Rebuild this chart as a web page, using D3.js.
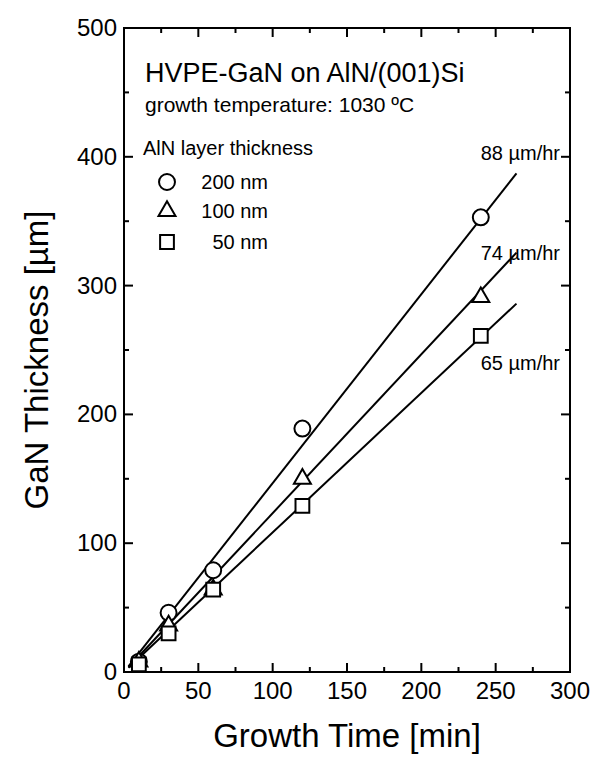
<!DOCTYPE html>
<html>
<head>
<meta charset="utf-8">
<script src="https://cdn.jsdelivr.net/npm/d3@7"></script>
<style>
  body { margin: 0; background: #fff; }
  svg { display: block; font-family: "Liberation Sans", Arial, sans-serif; }
</style>
</head>
<body>
<svg></svg>
<script>
// data
const times = [10, 30, 60, 120, 240];          // growth time [min]
const thick200 = [8, 46, 79, 189, 353];        // GaN thickness [um], 200 nm AlN
const thick100 = [8, 36, 64, 150, 291];        // 100 nm AlN
const thick50 = [6, 30, 64, 129, 261];         // 50 nm AlN
const rates = [88, 74, 65];                    // fitted growth rate [um/hr]
const legendNames = ["200 nm", "100 nm", "50 nm"];
const xTicks = [0, 50, 100, 150, 200, 250, 300];
const yTicks = [0, 100, 200, 300, 400, 500];

const width = 610, height = 763;
const plotL = 124, plotR = 570, plotT = 28, plotB = 672;

const svg = d3.select("svg").attr("width", width).attr("height", height);

const x = d3.scaleLinear().domain([0, 300]).range([plotL, plotR]);
const y = d3.scaleLinear().domain([0, 500]).range([plotB, plotT]);

// frame
svg.append("rect")
  .attr("x", plotL).attr("y", plotT)
  .attr("width", plotR - plotL).attr("height", plotB - plotT)
  .attr("fill", "none").attr("stroke", "#000").attr("stroke-width", 2);

// inward ticks on all four sides, majors + minors
const xMinor = d3.range(25, 300, 50);
const yMinor = d3.range(50, 500, 100);
const tickG = svg.append("g").attr("stroke", "#000").attr("stroke-width", 2);
const addTicks = (vals, len, axis) => {
  vals.forEach(v => {
    if (axis === "x") {
      tickG.append("line").attr("x1", x(v)).attr("x2", x(v)).attr("y1", plotB).attr("y2", plotB - len);
      tickG.append("line").attr("x1", x(v)).attr("x2", x(v)).attr("y1", plotT).attr("y2", plotT + len);
    } else {
      tickG.append("line").attr("y1", y(v)).attr("y2", y(v)).attr("x1", plotL).attr("x2", plotL + len);
      tickG.append("line").attr("y1", y(v)).attr("y2", y(v)).attr("x1", plotR).attr("x2", plotR - len);
    }
  });
};
addTicks(xTicks.slice(1, -1), 9, "x");
addTicks(xMinor, 5, "x");
addTicks(yTicks.slice(1, -1), 9, "y");
addTicks(yMinor, 5, "y");

// tick labels
svg.append("g").selectAll("text").data(xTicks).enter().append("text")
  .attr("x", d => x(d)).attr("y", plotB + 27)
  .attr("text-anchor", "middle").attr("font-size", 24)
  .text(d => d);
svg.append("g").selectAll("text").data(yTicks).enter().append("text")
  .attr("x", plotL - 7).attr("y", d => y(d) + 8)
  .attr("text-anchor", "end").attr("font-size", 24)
  .text(d => d);

// axis titles
svg.append("text")
  .attr("x", (plotL + plotR) / 2).attr("y", 747)
  .attr("text-anchor", "middle").attr("font-size", 33)
  .text("Growth Time [min]");
svg.append("text")
  .attr("transform", `translate(48, ${(plotT + plotB) / 2 + 10}) rotate(-90)`)
  .attr("text-anchor", "middle").attr("font-size", 33)
  .text("GaN Thickness [µm]");

// fit lines
const lineG = svg.append("g");
rates.forEach(r => {
  lineG.append("line")
    .attr("x1", x(3)).attr("y1", y(r / 60 * 3))
    .attr("x2", x(264)).attr("y2", y(r / 60 * 264))
    .attr("stroke", "#000").attr("stroke-width", 2);
});

// markers
const circle = d3.symbol().type(d3.symbolCircle).size(200);
const tri = d3.symbol().type(d3.symbolTriangle).size(125);
const sq = d3.symbol().type(d3.symbolSquare).size(190);
const series = [
  { vals: thick200, sym: circle },
  { vals: thick100, sym: tri },
  { vals: thick50, sym: sq }
];
series.forEach(s => {
  svg.append("g").selectAll("path").data(times).enter().append("path")
    .attr("d", s.sym)
    .attr("transform", (d, i) => `translate(${x(d)},${y(s.vals[i])})`)
    .attr("fill", "#fff").attr("stroke", "#000").attr("stroke-width", 2);
});

// rate labels
const rateY = [153, 253, 363];
rates.forEach((r, i) => {
  const t = svg.append("text").attr("x", 560).attr("y", rateY[i] + 7)
    .attr("text-anchor", "end").attr("font-size", 20);
  t.append("tspan").text(r + " ");
  t.append("tspan").text("µm/hr");
});

// annotations
svg.append("text").attr("x", 145).attr("y", 82).attr("font-size", 27)
  .text("HVPE-GaN on AlN/(001)Si");
svg.append("text").attr("x", 145).attr("y", 112).attr("font-size", 21)
  .text("growth temperature: 1030 ºC");
svg.append("text").attr("x", 143).attr("y", 155).attr("font-size", 20)
  .text("AlN layer thickness");

const legY = [182, 211, 242];
[circle, tri, sq].forEach((sym, i) => {
  svg.append("path").attr("d", sym)
    .attr("transform", `translate(167,${legY[i]})`)
    .attr("fill", "#fff").attr("stroke", "#000").attr("stroke-width", 2);
  svg.append("text").attr("x", 268).attr("y", legY[i] + 7)
    .attr("text-anchor", "end").attr("font-size", 20)
    .text(legendNames[i]);
});
</script>
</body>
</html>
